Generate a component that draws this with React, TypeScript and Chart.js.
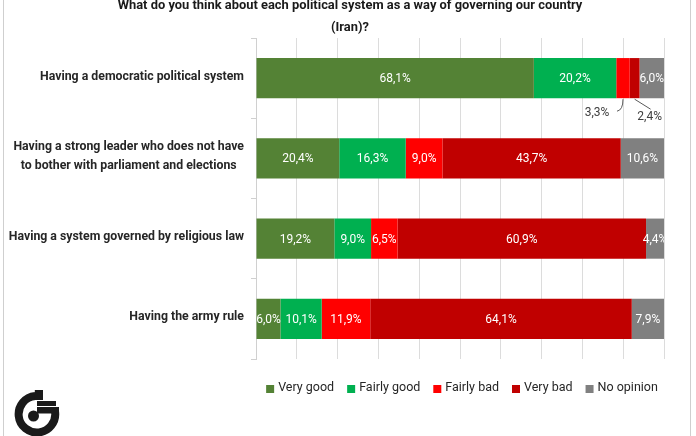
import React, { useEffect, useRef } from "react";
import { Chart, registerables } from "chart.js";

Chart.register(...registerables);

const titleLines = [
  "What do you think about each political system as a way of governing our country",
  "(Iran)?",
];
const categories = [
  ["Having a democratic political system"],
  ["Having a strong leader who does not have", "to bother with parliament and elections"],
  ["Having a system governed by religious law"],
  ["Having the army rule"],
];
const seriesNames = ["Very good", "Fairly good", "Fairly bad", "Very bad", "No opinion"];
const veryGood = [68.1, 20.4, 19.2, 6.0];
const fairlyGood = [20.2, 16.3, 9.0, 10.1];
const fairlyBad = [3.3, 9.0, 6.5, 11.9];
const veryBad = [2.4, 43.7, 60.9, 64.1];
const noOpinion = [6.0, 10.6, 4.4, 7.9];
const seriesValues = [veryGood, fairlyGood, fairlyBad, veryBad, noOpinion];
const seriesColors = ["#548235", "#00b050", "#ff0000", "#c00000", "#808080"];

const FONT = "Roboto, 'Noto Sans', sans-serif";

const fmt = (v: number) => v.toFixed(1).replace(".", ",") + "%";

const overlay = {
  id: "overlay",
  afterDatasetsDraw(chart: any) {
    const ctx = chart.ctx as CanvasRenderingContext2D;
    const area = chart.chartArea;
    const smallCount: number[] = [];
    chart.data.datasets.forEach((ds: any, di: number) => {
      const meta = chart.getDatasetMeta(di);
      meta.data.forEach((el: any, i: number) => {
        const v = ds.data[i] as number;
        const p = el.getProps(["x", "y", "base", "height"], true);
        const cx = (p.x + p.base) / 2;
        const text = fmt(v);
        ctx.save();
        ctx.font = `12px ${FONT}`;
        ctx.textBaseline = "middle";
        if (v >= 4) {
          ctx.beginPath();
          ctx.rect(area.left, area.top, area.right - area.left, area.bottom - area.top);
          ctx.clip();
          ctx.fillStyle = "#ffffff";
          ctx.textAlign = "center";
          ctx.fillText(text, cx, p.y + 1);
        } else {
          const n = smallCount[i] || 0;
          smallCount[i] = n + 1;
          const bottom = p.y + p.height / 2;
          ctx.strokeStyle = "#595959";
          ctx.lineWidth = 1;
          ctx.fillStyle = "#404040";
          ctx.beginPath();
          if (n === 0) {
            ctx.moveTo(cx, bottom + 1);
            ctx.quadraticCurveTo(cx, bottom + 12, cx - 6, bottom + 13);
            ctx.stroke();
            ctx.textAlign = "center";
            ctx.fillText(text, cx - 26, bottom + 15);
          } else {
            ctx.moveTo(cx, bottom + 1);
            ctx.lineTo(cx + 16, bottom + 11);
            ctx.stroke();
            ctx.textAlign = "center";
            ctx.fillText(text, cx + 15, bottom + 19);
          }
        }
        ctx.restore();
      });
    });
  },
  afterDraw(chart: any) {
    const ctx = chart.ctx as CanvasRenderingContext2D;
    const area = chart.chartArea;
    ctx.save();
    // title
    ctx.fillStyle = "#1a1a1a";
    ctx.font = `bold 12.9px ${FONT}`;
    ctx.textAlign = "center";
    ctx.textBaseline = "alphabetic";
    ctx.fillText(titleLines[0], 350, 9);
    ctx.fillText(titleLines[1], 350, 31);

    // y labels
    const yScale = chart.scales.y;
    ctx.font = `bold 12.3px ${FONT}`;
    ctx.fillStyle = "#262626";
    ctx.textBaseline = "middle";
    ctx.textAlign = "center";
    categories.forEach((lines, i) => {
      const cy = yScale.getPixelForValue(i);
      const w = Math.max(...lines.map((l) => ctx.measureText(l).width));
      const right = area.left - 12;
      const mid = right - w / 2;
      const lh = 19;
      const start = cy - ((lines.length - 1) * lh) / 2 - 1.5;
      lines.forEach((l, k) => ctx.fillText(l, mid, start + k * lh));
    });

    // legend
    ctx.font = `12.5px ${FONT}`;
    const box = 8;
    const gapBT = 4;
    const gapItem = 13;
    const widths = chart.data.datasets.map((d: any) => ctx.measureText(d.label).width);
    const total =
      widths.reduce((a: number, w: number) => a + box + gapBT + w, 0) + gapItem * (widths.length - 1);
    let x = (area.left + area.right) / 2 - total / 2 + 2;
    const ly = 388;
    ctx.textAlign = "left";
    ctx.textBaseline = "middle";
    chart.data.datasets.forEach((d: any, k: number) => {
      ctx.fillStyle = d.backgroundColor;
      ctx.fillRect(x, ly - box / 2 + 1, box, box);
      ctx.fillStyle = "#262626";
      ctx.fillText(d.label, x + box + gapBT, ly);
      x += box + gapBT + widths[k] + gapItem;
    });
    ctx.restore();
  },
};

export default function App() {
  const ref = useRef<HTMLCanvasElement | null>(null);
  useEffect(() => {
    if (!ref.current) return;
    const chart = new Chart(ref.current, {
      type: "bar",
      data: {
        labels: categories.map((c) => c.join(" ")),
        datasets: seriesNames.map((name, k) => ({
          label: name,
          data: seriesValues[k],
          backgroundColor: seriesColors[k],
          borderWidth: 0,
          barPercentage: 0.5,
          categoryPercentage: 1,
        })),
      },
      options: {
        indexAxis: "y",
        animation: false,
        responsive: false,
        events: [],
        layout: { padding: { top: 38, right: 32, bottom: 77, left: 0 } },
        scales: {
          x: {
            stacked: true,
            min: 0,
            max: 100,
            ticks: { display: false, stepSize: 10 },
            grid: { color: "#dcdcdc", drawTicks: false },
            border: { display: false },
            afterFit: (s: any) => {
              s.height = 0;
            },
          },
          y: {
            stacked: true,
            ticks: { display: false },
            grid: { drawOnChartArea: false, offset: true, tickLength: 5, color: "#d0d0d0" },
            border: { display: true, color: "#d0d0d0" },
            afterFit: (s: any) => {
              s.width = 256;
            },
          },
        },
        plugins: {
          legend: { display: false },
          title: { display: false },
          tooltip: { enabled: false },
        },
      } as any,
      plugins: [overlay],
    });
    return () => chart.destroy();
  }, []);

  return (
    <div
      style={{
        position: "fixed",
        left: 0,
        top: 0,
        width: 696,
        height: 436,
        background: "#ffffff",
        overflow: "hidden",
      }}
    >
      <canvas ref={ref} width={696} height={436} style={{ position: "absolute", left: 0, top: 0 }} />
      <div style={{ position: "absolute", left: 3, top: 0, width: 1, height: 436, background: "#cfcfcf" }} />
      <div style={{ position: "absolute", left: 690, top: 0, width: 1, height: 436, background: "#cfcfcf" }} />
      <svg
        width={696}
        height={436}
        viewBox="0 0 696 436"
        style={{ position: "absolute", left: 0, top: 0, pointerEvents: "none" }}
      >
        <path d="M 35.2 396 A 18.3 18.3 0 1 0 55.1 412" fill="none" stroke="#1a1a1a" strokeWidth={8} />
        <circle cx={33.5} cy={416} r={5.5} fill="#1a1a1a" />
        <rect x={34.8} y={390} width={8.2} height={10} fill="#1a1a1a" />
        <rect x={37} y={401} width={19} height={5} fill="#1a1a1a" />
        <rect x={37} y={407} width={22} height={6.5} fill="#1a1a1a" />
      </svg>
    </div>
  );
}
